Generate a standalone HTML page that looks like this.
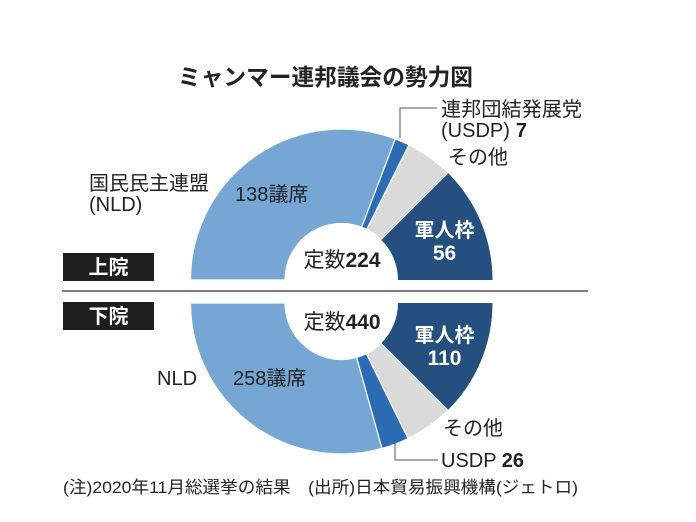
<!DOCTYPE html>
<html><head><meta charset="utf-8"><style>
html,body{margin:0;padding:0;background:#fff;}
svg{display:block;}
text{font-family:"Liberation Sans","Noto Sans CJK JP",sans-serif;fill:#222;}
</style></head><body>
<svg width="696" height="522" viewBox="0 0 696 522" xmlns="http://www.w3.org/2000/svg">
<rect width="696" height="522" fill="#fff"/>
<!-- title -->
<text x="178" y="85" font-size="23" font-weight="bold" textLength="295" lengthAdjust="spacingAndGlyphs">ミャンマー連邦議会の勢力図</text>

<!-- upper semi-donut -->
<g stroke="#fff" stroke-width="1.2">
<path d="M190.5,280 A151,151 0 0 1 395.35,138.92 L361.65,227.21 A56.5,56.5 0 0 0 285,280 Z" fill="#76a6d4"/>
<path d="M395.35,138.92 A151,151 0 0 1 408.92,144.89 L366.73,229.44 A56.5,56.5 0 0 0 361.65,227.21 Z" fill="#2c6cb4"/>
<path d="M408.92,144.89 A151,151 0 0 1 448.27,173.23 L381.45,240.05 A56.5,56.5 0 0 0 366.73,229.44 Z" fill="#dadada"/>
<path d="M448.27,173.23 A151,151 0 0 1 492.5,280 L398,280 A56.5,56.5 0 0 0 381.45,240.05 Z" fill="#244f7e" stroke="none"/>
</g>

<!-- lower semi-donut -->
<g stroke="#fff" stroke-width="1.2">
<path d="M190.5,303 A151,151 0 0 0 381.98,448.47 L356.65,357.43 A56.5,56.5 0 0 1 285,303 Z" fill="#76a6d4"/>
<path d="M381.98,448.47 A151,151 0 0 0 408.12,438.51 L366.43,353.70 A56.5,56.5 0 0 1 356.65,357.43 Z" fill="#2c6cb4"/>
<path d="M408.12,438.51 A151,151 0 0 0 448.27,409.77 L381.45,342.95 A56.5,56.5 0 0 1 366.43,353.70 Z" fill="#dadada"/>
<path d="M448.27,409.77 A151,151 0 0 0 492.5,303 L398,303 A56.5,56.5 0 0 1 381.45,342.95 Z" fill="#244f7e" stroke="none"/>
</g>

<!-- leader lines -->
<polyline points="400,138 400,108 437,108" fill="none" stroke="#555" stroke-width="1"/>
<polyline points="395,443 395,460 438,460" fill="none" stroke="#555" stroke-width="1"/>

<!-- separator -->
<line x1="62" y1="291" x2="588" y2="291" stroke="#555" stroke-width="1.5"/>

<!-- boxes -->
<rect x="63" y="253" width="91" height="28" fill="#1e1e1e"/>
<text x="108.5" y="274" font-size="20" font-weight="bold" text-anchor="middle" style="fill:#fff">上院</text>
<rect x="63" y="302" width="91" height="28" fill="#1e1e1e"/>
<text x="108.5" y="323" font-size="20" font-weight="bold" text-anchor="middle" style="fill:#fff">下院</text>

<!-- upper labels -->
<text x="441" y="116" font-size="20" textLength="141" lengthAdjust="spacingAndGlyphs">連邦団結発展党</text>
<text x="441" y="137" font-size="20">(USDP)<tspan dx="6" font-weight="bold">7</tspan></text>
<text x="448" y="164" font-size="20">その他</text>
<text x="89" y="190" font-size="20" textLength="120" lengthAdjust="spacingAndGlyphs">国民民主連盟</text>
<text x="89" y="211" font-size="20">(NLD)</text>
<text x="235" y="201" font-size="20">138議席</text>
<text x="444.5" y="237" font-size="20" font-weight="bold" text-anchor="middle" style="fill:#fff">軍人枠</text>
<text x="444.5" y="260" font-size="21" font-weight="bold" text-anchor="middle" style="fill:#fff">56</text>
<text x="342" y="267" font-size="21" text-anchor="middle">定数<tspan font-weight="bold">224</tspan></text>

<!-- lower labels -->
<text x="342" y="329" font-size="21" text-anchor="middle">定数<tspan font-weight="bold">440</tspan></text>
<text x="444.5" y="342" font-size="20" font-weight="bold" text-anchor="middle" style="fill:#fff">軍人枠</text>
<text x="444.5" y="365" font-size="21" font-weight="bold" text-anchor="middle" style="fill:#fff">110</text>
<text x="157" y="385" font-size="20">NLD</text>
<text x="233" y="385" font-size="20">258議席</text>
<text x="443" y="435" font-size="20">その他</text>
<text x="441" y="467" font-size="20">USDP <tspan font-weight="bold">26</tspan></text>

<!-- footnote -->
<text x="63" y="493" font-size="17" textLength="515" lengthAdjust="spacingAndGlyphs">(注)2020年11月総選挙の結果　(出所)日本貿易振興機構(ジェトロ)</text>
</svg>
</body></html>
